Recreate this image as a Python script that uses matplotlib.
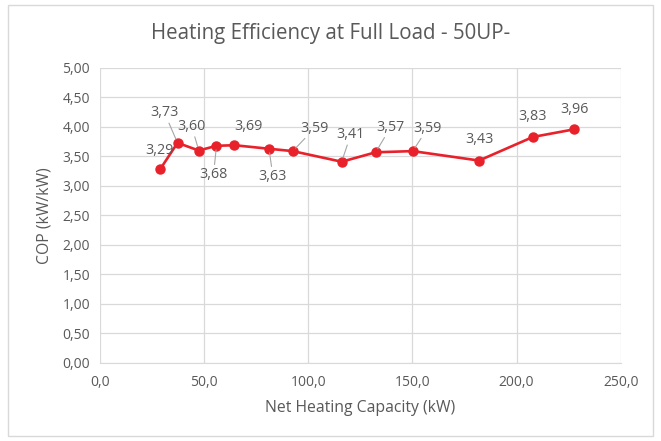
import matplotlib
matplotlib.use("Agg")
from matplotlib import pyplot as plt
from matplotlib.patches import Rectangle
from matplotlib.ticker import FuncFormatter

# Heating efficiency at full load, 50UP-
capacity = [29.1, 37.3, 47.5, 56.0, 64.6, 81.2, 92.6, 116.1, 132.4, 150.2, 182.0, 207.9, 227.8]
cop = [3.29, 3.73, 3.60, 3.68, 3.69, 3.63, 3.59, 3.41, 3.57, 3.59, 3.43, 3.83, 3.96]

# label offsets (pixels) and whether a leader line is drawn
offsets = [(-1, 18), (-13, 30), (-7, 24), (-3, -29), (14, 19), (4, -28), (22, 23),
           (9, 27), (15, 25), (15, 23), (0, 21), (0, 20), (0, 20)]
leaders = [False, True, True, True, False, True, True, True, True, True, False, False, False]

plt.rcParams['font.family'] = ['Open Sans', 'DejaVu Sans']
grey = '#595959'
red = '#E8212B'

fig = plt.figure(figsize=(6.61, 4.41), dpi=100)
ax = fig.add_axes([0.151, 0.177, 0.788, 0.669])

ax.plot(capacity, cop, color=red, linewidth=1.9, marker='o', markersize=6.5, zorder=3)

for x, y, (dx, dy), lead in zip(capacity, cop, offsets, leaders):
    props = None
    if lead:
        props = dict(arrowstyle='-', color='#A6A6A6', linewidth=0.8, shrinkA=0, shrinkB=3)
    ax.annotate(f'{y:.2f}'.replace('.', ','), (x, y), xytext=(dx, dy), textcoords='offset pixels',
                ha='center', va='center', fontsize=10.3, color=grey, arrowprops=props)

ax.set_xlim(0, 250)
ax.set_ylim(0, 5)
ax.set_xticks([0, 50, 100, 150, 200, 250])
ax.set_yticks([i * 0.5 for i in range(11)])
ax.xaxis.set_major_formatter(FuncFormatter(lambda v, p: f'{v:.1f}'.replace('.', ',')))
ax.yaxis.set_major_formatter(FuncFormatter(lambda v, p: f'{v:.2f}'.replace('.', ',')))
ax.tick_params(length=0, labelsize=10, labelcolor=grey, pad=7)
ax.tick_params(axis='x', pad=9)
ax.grid(True, color='#D9D9D9', linewidth=0.9)
ax.set_axisbelow(True)
for s in ['top', 'right', 'left']:
    ax.spines[s].set_visible(False)
ax.spines['bottom'].set_color('#D9D9D9')

ax.set_xlabel('Net Heating Capacity (kW)', fontsize=11.3, color=grey, labelpad=7)
ax.set_ylabel('COP (kW/kW)', fontsize=11.3, color=grey, labelpad=7)
fig.text(0.5, 0.925, 'Heating Efficiency at Full Load - 50UP-', ha='center', va='center',
         fontsize=14.8, color=grey)

fig.patches.append(Rectangle((8 / 661, 5 / 441), 645 / 661, 431 / 441, transform=fig.transFigure,
                             fill=False, edgecolor='#D9D9D9', linewidth=1))

fig.savefig('out.png', dpi=100)
